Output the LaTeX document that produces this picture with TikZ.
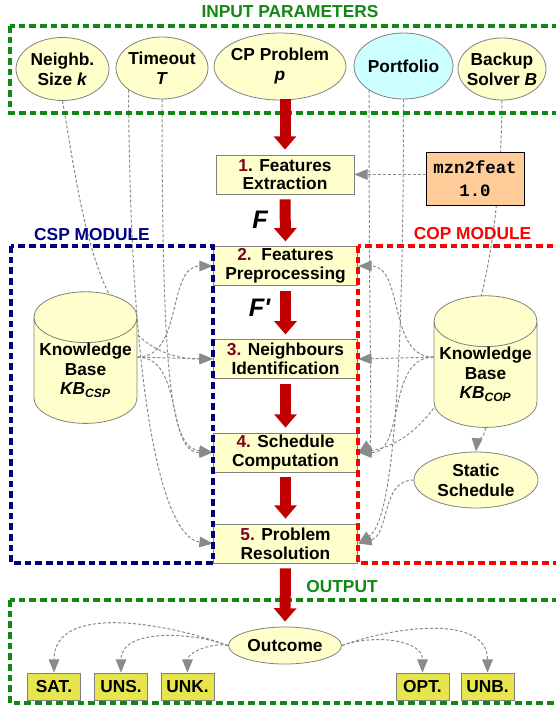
\documentclass[tikz,border=0pt]{standalone}
\usepackage{fontspec}
\setmainfont{Liberation Sans}
\newfontfamily\toolfont{Liberation Mono}
\usetikzlibrary{shapes.geometric,arrows.meta,backgrounds}

\definecolor{paleyellow}{HTML}{FFFFCC}
\definecolor{palecyan}{HTML}{CCFFFF}
\definecolor{paramgreen}{HTML}{118811}
\definecolor{cspblue}{HTML}{000080}
\definecolor{copred}{HTML}{FF0000}
\definecolor{flowred}{HTML}{C00000}
\definecolor{stepnum}{HTML}{800020}
\definecolor{toolorange}{HTML}{FFCC99}
\definecolor{resultyellow}{HTML}{E6E64C}
\definecolor{linkgray}{HTML}{8A8A8A}

\begin{document}
\begin{tikzpicture}[x=0.75pt, y=0.75pt,
        every text node part/.style={align=center},
        font=\fontsize{13}{15}\selectfont\bfseries,
        param/.style={ellipse, draw=gray, line width=0.6pt, fill=paleyellow, inner xsep=-6pt, inner ysep=0pt},
        stepbox/.style={rectangle, draw=gray, line width=0.6pt, fill=paleyellow, minimum width=108.5pt, minimum height=28.75pt, inner sep=1pt, font=\fontsize{13}{14}\selectfont\bfseries},
        kbase/.style={cylinder, shape border rotate=90, aspect=0.55, draw=gray, line width=0.6pt, fill=paleyellow, minimum width=77.25pt, inner sep=0pt, font=\fontsize{13}{14.75}\selectfont\bfseries},
        outbox/.style={rectangle, draw=gray, line width=0.6pt, fill=resultyellow, minimum width=39.75pt, minimum height=20.25pt, inner sep=0pt},
        modframe/.style={dash pattern=on 5pt off 3pt, line width=2.3pt},
        flow/.style={draw=flowred, line width=8.25pt, -{Triangle[length=10pt,width=16.5pt]}, shorten >=3.75pt, shorten <=3.75pt},
        link/.style={draw=linkgray, line width=0.75pt, dash pattern=on 2.25pt off 1.5pt, -{Triangle[length=10pt,width=8pt]}},
        flowlabel/.style={font=\fontsize{19}{20}\selectfont\bfseries\itshape}]
        \path[use as bounding box, clip] (0,0) rectangle (556,-706);

        % titles
        \node(inputTitle) at (290,-12)[text=paramgreen]{INPUT PARAMETERS};
        \node(cspTitle) at (92,-235)[text=cspblue]{CSP MODULE};
        \node(copTitle) at (472.5,-234)[text=copred]{COP MODULE};
        \node(outTitle) at (342,-587)[text=paramgreen]{OUTPUT};

        % input parameters
        \node(kNode) at (62.5,-69)[param, minimum width=69.75pt, minimum height=47.25pt]{Neighb.\\Size \textit{k}};
        \node(timeout) at (162,-68)[param, minimum width=69pt, minimum height=46.5pt]{Timeout\\\textit{T}};
        \node(problem) at (280,-66.5)[param, minimum width=99pt, minimum height=50.25pt]{CP Problem\\\textit{p}};
        \node(portfolio) at (403.5,-66)[param, fill=palecyan, minimum width=74.25pt, minimum height=49.5pt]{Portfolio};
        \node(backup) at (502,-69)[param, minimum width=66pt, minimum height=46.5pt]{Backup\\Solver \textit{B}};

        % steps
        \node(step1) at (285,-174.5)[stepbox, minimum width=103.5pt, minimum height=29.25pt]{{\color{stepnum}1}. Features\\Extraction};
        \node(step2) at (285.5,-266)[stepbox]{{\color{stepnum}2.}\ \ Features\\Preprocessing};
        \node(step3) at (285.5,-359)[stepbox]{{\color{stepnum}3.} Neighbours\\Identification};
        \node(step4) at (285.5,-452.5)[stepbox, minimum height=29.25pt]{{\color{stepnum}4.} Schedule\\Computation};
        \node(step5) at (285.5,-543.5)[stepbox, minimum height=29.25pt]{{\color{stepnum}5.} Problem\\Resolution};

        \node(mzn) at (475,-178.5)[rectangle, draw=black, line width=0.7pt, fill=toolorange, minimum width=73.5pt, minimum height=39.75pt, inner sep=0pt, font=\toolfont\bfseries\fontsize{13}{17}\selectfont]{mzn2feat\\1.0};

        \node(kbcsp) at (85.5,-370.5)[kbase, minimum height=81pt]{Knowledge\\Base\\\textit{KB\textsubscript{CSP}}};
        \node(kbcop) at (485.5,-374.5)[kbase, minimum height=75pt]{Knowledge\\Base\\\textit{KB\textsubscript{COP}}};
        \node(static) at (476,-480)[param, minimum width=93pt, minimum height=42pt]{Static\\Schedule};

        % output
        \node(outcome) at (285,-645.5)[param, minimum width=84.75pt, minimum height=27.75pt]{Outcome};
        \node(sat) at (54,-686.5)[outbox]{SAT.};
        \node(uns) at (121,-686.5)[outbox]{UNS.};
        \node(unk) at (187.5,-686.5)[outbox]{UNK.};
        \node(opt) at (422.5,-686.5)[outbox]{OPT.};
        \node(unb) at (487.5,-686.5)[outbox]{UNB.};

        % module frames
        \draw[modframe, draw=paramgreen] (10,-26) rectangle (560,-113);
        \draw[modframe, draw=cspblue] (11,-246) rectangle (213,-563);
        \draw[modframe, draw=copred] (358,-246) rectangle (560,-563);
        \draw[modframe, draw=paramgreen] (10,-600) rectangle (560,-703);

        % main flow
        \draw[flow, shorten <=-1pt] (problem.south -| step1.north) -- (step1.north);
        \draw[flow] (step1.south) -- (step2.north);
        \draw[flow] (step2.south) -- (step3.north);
        \draw[flow] (step3.south) -- (step4.north);
        \draw[flow] (step4.south) -- (step5.north);
        \draw[flow] (step5.south) -- (outcome.north);
        \node(fLabel) at (260,-220)[flowlabel]{F};
        \node(fPrime) at (259.5,-307.5)[flowlabel]{F\textquotesingle};

        % dependencies
        \begin{scope}[on background layer]
            \draw[link] (kNode.south) to[out=-80, in=180] (step3.west);
            \draw[link] (timeout.213) .. controls +(2,-340) and +(-45,5) .. (step5.west);
            \draw[link] (timeout.south) .. controls +(0,-300) and +(-40,5) .. (step4.west);
            \draw[link] ([yshift=10pt]kbcsp.east) to[out=0, in=180] (step2.west);
            \draw[link] ([yshift=10pt]kbcsp.east) -- (step3.west);
            \draw[link] ([yshift=10pt]kbcsp.east) to[out=0, in=180] (step4.west);

            \draw[link] (mzn.west |- step1.east) -- (step1.east);
            \draw[link] (portfolio.215) .. controls +(0,-300) and +(15,10) .. (step4.east);
            \draw[link] (portfolio.south) .. controls +(0,-330) and +(30,20) .. (step5.east);
            \draw[link] (backup.south) .. controls (500,-330) and (440,-440) .. (step4.east);
            \draw[link] ([yshift=13pt]kbcop.west) to[out=180, in=0] (step2.east);
            \draw[link] ([yshift=13pt]kbcop.west) -- (step3.east);
            \draw[link] ([yshift=13pt]kbcop.west) to[out=180, in=0] (step4.east);
            \draw[link] (kbcop.south) to[out=-95, in=85] (static.north);
            \draw[link] (static.west) to[out=180, in=15] (step5.east);

            \draw[link] (outcome.west) to[out=160, in=90] (sat.north);
            \draw[link] (outcome.west) to[out=160, in=90] (uns.north);
            \draw[link] (outcome.west) to[out=170, in=90] (unk.north);
            \draw[link] (outcome.east) to[out=20, in=90] (opt.north);
            \draw[link] (outcome.east) to[out=20, in=90] (unb.north);
        \end{scope}
    \end{tikzpicture}
\end{document}
